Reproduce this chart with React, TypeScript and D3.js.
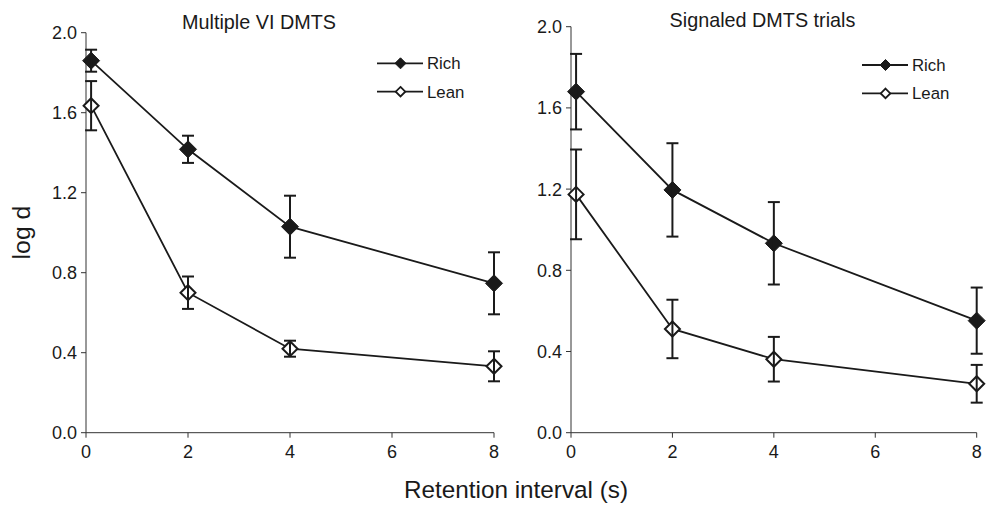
import React from "react";
import * as d3 from "d3";

const retention = [0.1, 2, 4, 8];
const xTicks = [0, 2, 4, 6, 8];
const yTicks = [0, 0.4, 0.8, 1.2, 1.6, 2.0];

const multRich = [1.86, 1.417, 1.03, 0.747];
const multRichErr = [0.055, 0.068, 0.155, 0.155];
const multLean = [1.635, 0.7, 0.42, 0.332];
const multLeanErr = [0.123, 0.081, 0.04, 0.075];

const sigRich = [1.68, 1.196, 0.933, 0.552];
const sigRichErr = [0.186, 0.23, 0.203, 0.163];
const sigLean = [1.174, 0.511, 0.362, 0.241];
const sigLeanErr = [0.221, 0.144, 0.11, 0.093];

const panelTitles = ["Multiple VI DMTS", "Signaled DMTS trials"];
const legendLabels = ["Rich", "Lean"];

const FONT = "'Liberation Sans', Arial, Helvetica, sans-serif";
const INK = "#1a1a1a";

type Series = { vals: number[]; errs: number[]; filled: boolean };

function diamond(cx: number, cy: number, r: number) {
  return `M${cx},${cy - r}L${cx + r},${cy}L${cx},${cy + r}L${cx - r},${cy}Z`;
}

function Panel(props: {
  x0: number; x1: number; yTop: number; yBot: number;
  title: string; titleX: number; titleY: number; series: Series[];
  legX: number; legY: number;
}) {
  const { x0, x1, yTop, yBot, title, titleX, titleY, series, legX, legY } = props;
  const x = d3.scaleLinear().domain([0, 8]).range([x0, x1]);
  const y = d3.scaleLinear().domain([0, 2]).range([yBot, yTop]);
  const line = d3.line<number>().x((_, i) => x(retention[i])).y((v) => y(v));
  const cap = 6;
  return (
    <g>
      <text x={titleX} y={titleY} textAnchor="middle" fontSize={19.8} fill={INK} fontFamily={FONT}>{title}</text>
      {/* axes */}
      <line x1={x0} x2={x0} y1={yTop} y2={yBot} stroke="#333" strokeWidth={1} />
      <line x1={x0} x2={x1} y1={yBot} y2={yBot} stroke="#333" strokeWidth={1} />
      {yTicks.map((t) => (
        <g key={"y" + t}>
          <line x1={x0 - 5} x2={x0} y1={y(t)} y2={y(t)} stroke="#333" strokeWidth={1} />
          <text x={x0 - 9} y={y(t)} dy="0.36em" textAnchor="end" fontSize={18} fill={INK} fontFamily={FONT}>{t.toFixed(1)}</text>
        </g>
      ))}
      {xTicks.map((t) => (
        <g key={"x" + t}>
          <line x1={x(t)} x2={x(t)} y1={yBot} y2={yBot + 5} stroke="#333" strokeWidth={1} />
          <text x={x(t)} y={yBot + 25} textAnchor="middle" fontSize={18} fill={INK} fontFamily={FONT}>{t}</text>
        </g>
      ))}
      {series.map((s, si) => (
        <g key={"s" + si}>
          <path d={line(s.vals) || ""} fill="none" stroke={INK} strokeWidth={1.8} />
          {s.vals.map((v, i) => (
            <path key={"m" + i}
              d={diamond(x(retention[i]), y(v), s.filled ? 8.5 : 7.5)}
              fill={s.filled ? INK : "#fff"} stroke={INK} strokeWidth={s.filled ? 1 : 2} />
          ))}
          {s.vals.map((v, i) => {
            const cx = x(retention[i]);
            const t = y(v + s.errs[i]);
            const b = y(v - s.errs[i]);
            return (
              <g key={"e" + i} stroke={INK} strokeWidth={2}>
                <line x1={cx} x2={cx} y1={t} y2={b} />
                <line x1={cx - cap} x2={cx + cap} y1={t} y2={t} />
                <line x1={cx - cap} x2={cx + cap} y1={b} y2={b} />
              </g>
            );
          })}
        </g>
      ))}
      {/* legend */}
      {series.map((s, si) => {
        const ly = legY + si * 28.4;
        return (
          <g key={"l" + si}>
            <line x1={legX} x2={legX + 46} y1={ly} y2={ly} stroke={INK} strokeWidth={1.8} />
            <path d={diamond(legX + 23.5, ly, s.filled ? 5.5 : 4.8)} fill={s.filled ? INK : "#fff"} stroke={INK} strokeWidth={s.filled ? 1 : 1.8} />
            <text x={legX + 50} y={ly} dy="0.36em" fontSize={16.8} fill={INK} fontFamily={FONT}>{legendLabels[si]}</text>
          </g>
        );
      })}
    </g>
  );
}

export default function App() {
  return (
    <svg width={992} height={505} style={{ position: "absolute", left: 0, top: 0, background: "#fff" }}>
      <rect width={992} height={505} fill="#fff" />
      <Panel x0={86} x1={494} yTop={32.7} yBot={432.7} title={panelTitles[0]} titleX={259} titleY={29}
        series={[{ vals: multRich, errs: multRichErr, filled: true }, { vals: multLean, errs: multLeanErr, filled: false }]}
        legX={377} legY={63.3} />
      <Panel x0={571} x1={976.7} yTop={26.7} yBot={432.7} title={panelTitles[1]} titleX={762.5} titleY={27}
        series={[{ vals: sigRich, errs: sigRichErr, filled: true }, { vals: sigLean, errs: sigLeanErr, filled: false }]}
        legX={862} legY={65} />
      <text transform="translate(30,232.5) rotate(-90)" textAnchor="middle" fontSize={24.8} fill={INK} fontFamily={FONT}>log d</text>
      <text x={516} y={498} textAnchor="middle" fontSize={24.3} fill={INK} fontFamily={FONT}>Retention interval (s)</text>
    </svg>
  );
}
